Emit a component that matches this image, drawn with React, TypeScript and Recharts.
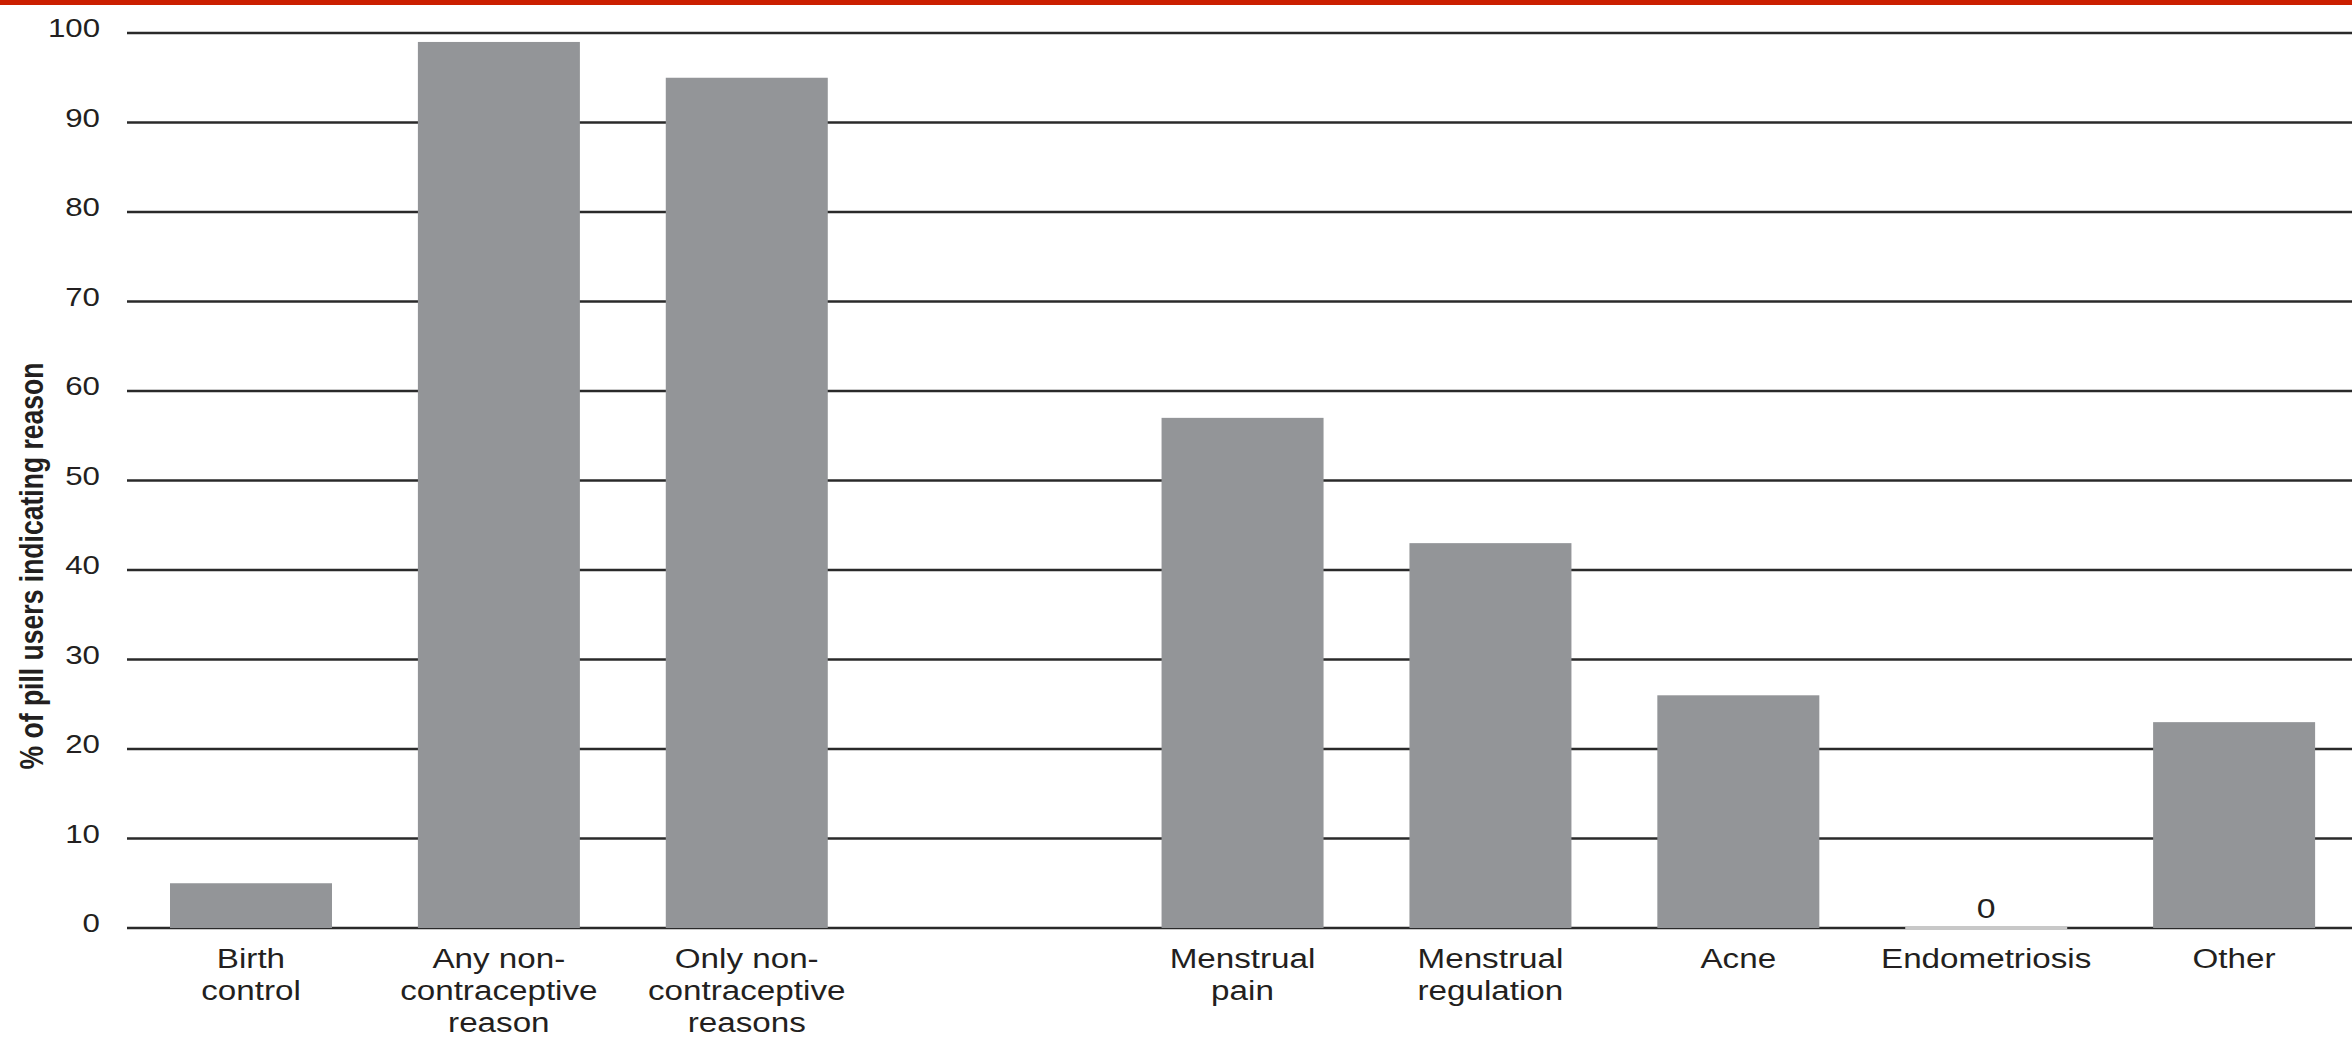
import React from "react";
import { BarChart, Bar, XAxis, YAxis, CartesianGrid, LabelList } from "recharts";

const categories = [
  "Birth\ncontrol",
  "Any non-\ncontraceptive\nreason",
  "Only non-\ncontraceptive\nreasons",
  "",
  "Menstrual\npain",
  "Menstrual\nregulation",
  "Acne",
  "Endometriosis",
  "Other",
];
const percentages = [5, 99, 95, null, 57, 43, 26, 0, 23];
const yTicks = [0, 10, 20, 30, 40, 50, 60, 70, 80, 90, 100];
const yLabel = "% of pill users indicating reason";

const data = categories.map((name, i) => ({ name, value: percentages[i] }));

const TEXT = "#231f20";
const BAR = "#939598";
const FONT = "'Liberation Sans', Arial, sans-serif";

function XTick({ x, y, payload }: any) {
  const lines = String(payload.value).split("\n").filter(Boolean);
  return (
    <g transform={`translate(${x},${y})`}>
      {lines.map((line, i) => (
        <text
          key={i}
          transform={`translate(0,${40 + i * 32}) scale(1.23,1)`}
          textAnchor="middle"
          fontSize={27}
          fill={TEXT}
          fontFamily={FONT}
        >
          {line}
        </text>
      ))}
    </g>
  );
}

function YTick({ x, y, payload }: any) {
  return (
    <text
      transform={`translate(${x},${y + 4}) scale(1.25,1)`}
      textAnchor="end"
      fontSize={25}
      fill={TEXT}
      fontFamily={FONT}
    >
      {payload.value}
    </text>
  );
}

// zero-height bar still leaves a pale strip over the baseline
function BarShape({ x, y, width, height, fill }: any) {
  if (!height) {
    return (
      <line x1={x} x2={x + width} y1={y} y2={y} stroke="#c8c8c8" strokeWidth={2.5} />
    );
  }
  return <rect x={x} y={y} width={width} height={height} fill={fill} />;
}

function ZeroLabel({ x, y, width, value }: any) {
  if (value !== 0) return null;
  return (
    <text
      transform={`translate(${x + width / 2},${y - 10}) scale(1.25,1)`}
      textAnchor="middle"
      fontSize={27}
      fill={TEXT}
      fontFamily={FONT}
    >
      0
    </text>
  );
}

export default function App() {
  return (
    <div
      style={{
        position: "absolute",
        left: 0,
        top: 0,
        width: 2352,
        height: 1039,
        overflow: "hidden",
        background: "#fff",
      }}
    >
      <BarChart
        width={2358}
        height={1039}
        data={data}
        margin={{ top: 33, right: 0, left: 0, bottom: 0 }}
        style={{ fontFamily: FONT }}
      >
        <CartesianGrid vertical={false} stroke="#2a2a2a" strokeWidth={2.5} />
        <XAxis
          dataKey="name"
          interval={0}
          height={111}
          axisLine={false}
          tickLine={false}
          tickSize={0}
          tickMargin={0}
          tick={<XTick />}
        />
        <YAxis
          width={127}
          domain={[0, 100]}
          ticks={yTicks}
          axisLine={false}
          tickLine={false}
          tickSize={0}
          tickMargin={27}
          tick={<YTick />}
          label={{
            content: () => (
              <text
                transform="translate(43,566) rotate(-90) scale(1,1.25)"
                textAnchor="middle"
                fontSize={26}
                fontWeight="bold"
                fill={TEXT}
                fontFamily={FONT}
                textLength={407}
                lengthAdjust="spacingAndGlyphs"
              >
                {yLabel}
              </text>
            ),
          }}
        />
        <Bar
          dataKey="value"
          fill={BAR}
          barSize={162}
          isAnimationActive={false}
          shape={<BarShape />}
        >
          <LabelList dataKey="value" content={<ZeroLabel />} />
        </Bar>
      </BarChart>
      <div
        style={{
          position: "absolute",
          left: 0,
          top: 0,
          width: 2352,
          height: 5,
          background: "#cb1f00",
        }}
      />
    </div>
  );
}
